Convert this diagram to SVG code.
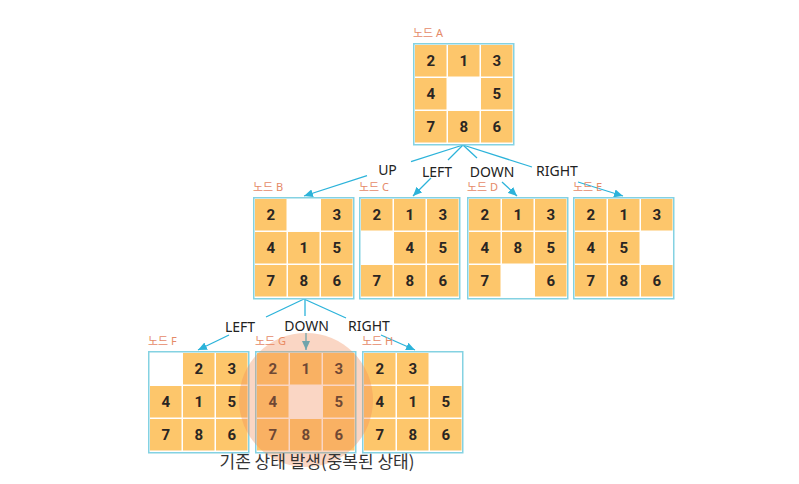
<svg xmlns="http://www.w3.org/2000/svg" width="799" height="484" viewBox="0 0 799 484">
<style>
.box{fill:#fff;stroke:#84d2e2;stroke-width:1.5}
.c{fill:#fdc66b}
.n{font-family:Roboto,"DejaVu Sans",sans-serif;font-weight:700;font-size:15px;fill:#2a2522;text-anchor:middle}
.lbl{font-family:"Noto Sans","Noto Sans CJK KR",sans-serif;font-size:11px;fill:#e58a68}
.edge{stroke:#2cb3da;stroke-width:1.3;fill:none;marker-end:url(#ah)}
.ed{stroke:#2cb3da;stroke-width:1.3;fill:none}
.el{font-family:"Noto Sans",sans-serif;font-size:14px;fill:#222;text-anchor:middle}
.cap{font-family:"Noto Sans CJK KR","Noto Sans",sans-serif;font-size:17px;fill:#333;text-anchor:middle}
</style>
<defs>
<marker id="ah" markerUnits="userSpaceOnUse" markerWidth="10" markerHeight="8" refX="9" refY="4" orient="auto">
<path d="M0,0 L9,4 L0,8 Z" fill="#2cb3da"/>
</marker>
</defs>
<rect width="799" height="484" fill="#fff"/>

<g id="connectors">
<line class="ed" x1="463" y1="145" x2="411" y2="161.6"/>
<line class="edge" x1="367" y1="175.6" x2="304" y2="196"/>
<line class="ed" x1="463" y1="145" x2="448" y2="160"/>
<line class="edge" x1="431" y1="178" x2="413" y2="196"/>
<line class="ed" x1="463" y1="145" x2="477" y2="158"/>
<line class="edge" x1="502" y1="182" x2="517" y2="196"/>
<line class="ed" x1="463" y1="145" x2="532" y2="167"/>
<line class="edge" x1="578" y1="182" x2="623" y2="196"/>
<text class="el" x="387.5" y="175">UP</text>
<text class="el" x="437" y="177">LEFT</text>
<text class="el" x="492" y="177">DOWN</text>
<text class="el" x="557" y="176">RIGHT</text>
<line class="ed" x1="304" y1="299" x2="266" y2="317"/>
<line class="edge" x1="229" y1="335" x2="198" y2="350"/>
<line class="ed" x1="305" y1="299" x2="305" y2="316"/>
<line class="edge" x1="306" y1="333" x2="306" y2="350"/>
<line class="ed" x1="304" y1="299" x2="346" y2="318"/>
<line class="edge" x1="381" y1="335" x2="415" y2="350"/>
<text class="el" x="240" y="332">LEFT</text>
<text class="el" x="306.5" y="331">DOWN</text>
<text class="el" x="369" y="331">RIGHT</text>
</g>

<g id="nodeA" transform="translate(413,43)">
<text class="lbl" x="0" y="-6">노드 A</text>
<rect class="box" x="0.75" y="0.75" width="100" height="101"/>
<rect class="c" x="2" y="2" width="31.5" height="31.5"/><rect class="c" x="35" y="2" width="31.5" height="31.5"/><rect class="c" x="68" y="2" width="31.5" height="31.5"/>
<rect class="c" x="2" y="35" width="31.5" height="31.5"/><rect class="c" x="68" y="35" width="31.5" height="31.5"/>
<rect class="c" x="2" y="68" width="31.5" height="31.5"/><rect class="c" x="35" y="68" width="31.5" height="31.5"/><rect class="c" x="68" y="68" width="31.5" height="31.5"/>
<text class="n" x="17.75" y="23">2</text><text class="n" x="50.75" y="23">1</text><text class="n" x="83.75" y="23">3</text>
<text class="n" x="17.75" y="56">4</text><text class="n" x="83.75" y="56">5</text>
<text class="n" x="17.75" y="89">7</text><text class="n" x="50.75" y="89">8</text><text class="n" x="83.75" y="89">6</text>
</g>

<g id="nodeB" transform="translate(253,197)">
<text class="lbl" x="0" y="-6">노드 B</text>
<rect class="box" x="0.75" y="0.75" width="100" height="101"/>
<rect class="c" x="2" y="2" width="31.5" height="31.5"/><rect class="c" x="68" y="2" width="31.5" height="31.5"/>
<rect class="c" x="2" y="35" width="31.5" height="31.5"/><rect class="c" x="35" y="35" width="31.5" height="31.5"/><rect class="c" x="68" y="35" width="31.5" height="31.5"/>
<rect class="c" x="2" y="68" width="31.5" height="31.5"/><rect class="c" x="35" y="68" width="31.5" height="31.5"/><rect class="c" x="68" y="68" width="31.5" height="31.5"/>
<text class="n" x="17.75" y="23">2</text><text class="n" x="83.75" y="23">3</text>
<text class="n" x="17.75" y="56">4</text><text class="n" x="50.75" y="56">1</text><text class="n" x="83.75" y="56">5</text>
<text class="n" x="17.75" y="89">7</text><text class="n" x="50.75" y="89">8</text><text class="n" x="83.75" y="89">6</text>
</g>

<g id="nodeC" transform="translate(359,197)">
<text class="lbl" x="0" y="-6">노드 C</text>
<rect class="box" x="0.75" y="0.75" width="100" height="101"/>
<rect class="c" x="2" y="2" width="31.5" height="31.5"/><rect class="c" x="35" y="2" width="31.5" height="31.5"/><rect class="c" x="68" y="2" width="31.5" height="31.5"/>
<rect class="c" x="35" y="35" width="31.5" height="31.5"/><rect class="c" x="68" y="35" width="31.5" height="31.5"/>
<rect class="c" x="2" y="68" width="31.5" height="31.5"/><rect class="c" x="35" y="68" width="31.5" height="31.5"/><rect class="c" x="68" y="68" width="31.5" height="31.5"/>
<text class="n" x="17.75" y="23">2</text><text class="n" x="50.75" y="23">1</text><text class="n" x="83.75" y="23">3</text>
<text class="n" x="50.75" y="56">4</text><text class="n" x="83.75" y="56">5</text>
<text class="n" x="17.75" y="89">7</text><text class="n" x="50.75" y="89">8</text><text class="n" x="83.75" y="89">6</text>
</g>

<g id="nodeD" transform="translate(467,197)">
<text class="lbl" x="0" y="-6">노드 D</text>
<rect class="box" x="0.75" y="0.75" width="100" height="101"/>
<rect class="c" x="2" y="2" width="31.5" height="31.5"/><rect class="c" x="35" y="2" width="31.5" height="31.5"/><rect class="c" x="68" y="2" width="31.5" height="31.5"/>
<rect class="c" x="2" y="35" width="31.5" height="31.5"/><rect class="c" x="35" y="35" width="31.5" height="31.5"/><rect class="c" x="68" y="35" width="31.5" height="31.5"/>
<rect class="c" x="2" y="68" width="31.5" height="31.5"/><rect class="c" x="68" y="68" width="31.5" height="31.5"/>
<text class="n" x="17.75" y="23">2</text><text class="n" x="50.75" y="23">1</text><text class="n" x="83.75" y="23">3</text>
<text class="n" x="17.75" y="56">4</text><text class="n" x="50.75" y="56">8</text><text class="n" x="83.75" y="56">5</text>
<text class="n" x="17.75" y="89">7</text><text class="n" x="83.75" y="89">6</text>
</g>

<g id="nodeE" transform="translate(573,197)">
<text class="lbl" x="0" y="-6">노드 E</text>
<rect class="box" x="0.75" y="0.75" width="100" height="101"/>
<rect class="c" x="2" y="2" width="31.5" height="31.5"/><rect class="c" x="35" y="2" width="31.5" height="31.5"/><rect class="c" x="68" y="2" width="31.5" height="31.5"/>
<rect class="c" x="2" y="35" width="31.5" height="31.5"/><rect class="c" x="35" y="35" width="31.5" height="31.5"/>
<rect class="c" x="2" y="68" width="31.5" height="31.5"/><rect class="c" x="35" y="68" width="31.5" height="31.5"/><rect class="c" x="68" y="68" width="31.5" height="31.5"/>
<text class="n" x="17.75" y="23">2</text><text class="n" x="50.75" y="23">1</text><text class="n" x="83.75" y="23">3</text>
<text class="n" x="17.75" y="56">4</text><text class="n" x="50.75" y="56">5</text>
<text class="n" x="17.75" y="89">7</text><text class="n" x="50.75" y="89">8</text><text class="n" x="83.75" y="89">6</text>
</g>

<g id="nodeF" transform="translate(148,351)">
<text class="lbl" x="0" y="-6">노드 F</text>
<rect class="box" x="0.75" y="0.75" width="100" height="101"/>
<rect class="c" x="35" y="2" width="31.5" height="31.5"/><rect class="c" x="68" y="2" width="31.5" height="31.5"/>
<rect class="c" x="2" y="35" width="31.5" height="31.5"/><rect class="c" x="35" y="35" width="31.5" height="31.5"/><rect class="c" x="68" y="35" width="31.5" height="31.5"/>
<rect class="c" x="2" y="68" width="31.5" height="31.5"/><rect class="c" x="35" y="68" width="31.5" height="31.5"/><rect class="c" x="68" y="68" width="31.5" height="31.5"/>
<text class="n" x="50.75" y="23">2</text><text class="n" x="83.75" y="23">3</text>
<text class="n" x="17.75" y="56">4</text><text class="n" x="50.75" y="56">1</text><text class="n" x="83.75" y="56">5</text>
<text class="n" x="17.75" y="89">7</text><text class="n" x="50.75" y="89">8</text><text class="n" x="83.75" y="89">6</text>
</g>

<g id="nodeG" transform="translate(255,351)">
<text class="lbl" x="0" y="-6">노드 G</text>
<rect class="box" x="0.75" y="0.75" width="100" height="101"/>
<rect class="c" x="2" y="2" width="31.5" height="31.5"/><rect class="c" x="35" y="2" width="31.5" height="31.5"/><rect class="c" x="68" y="2" width="31.5" height="31.5"/>
<rect class="c" x="2" y="35" width="31.5" height="31.5"/><rect class="c" x="68" y="35" width="31.5" height="31.5"/>
<rect class="c" x="2" y="68" width="31.5" height="31.5"/><rect class="c" x="35" y="68" width="31.5" height="31.5"/><rect class="c" x="68" y="68" width="31.5" height="31.5"/>
<text class="n" x="17.75" y="23">2</text><text class="n" x="50.75" y="23">1</text><text class="n" x="83.75" y="23">3</text>
<text class="n" x="17.75" y="56">4</text><text class="n" x="83.75" y="56">5</text>
<text class="n" x="17.75" y="89">7</text><text class="n" x="50.75" y="89">8</text><text class="n" x="83.75" y="89">6</text>
</g>

<g id="nodeH" transform="translate(362,351)">
<text class="lbl" x="0" y="-6">노드 H</text>
<rect class="box" x="0.75" y="0.75" width="100" height="101"/>
<rect class="c" x="2" y="2" width="31.5" height="31.5"/><rect class="c" x="35" y="2" width="31.5" height="31.5"/>
<rect class="c" x="2" y="35" width="31.5" height="31.5"/><rect class="c" x="35" y="35" width="31.5" height="31.5"/><rect class="c" x="68" y="35" width="31.5" height="31.5"/>
<rect class="c" x="2" y="68" width="31.5" height="31.5"/><rect class="c" x="35" y="68" width="31.5" height="31.5"/><rect class="c" x="68" y="68" width="31.5" height="31.5"/>
<text class="n" x="17.75" y="23">2</text><text class="n" x="50.75" y="23">3</text>
<text class="n" x="17.75" y="56">4</text><text class="n" x="50.75" y="56">1</text><text class="n" x="83.75" y="56">5</text>
<text class="n" x="17.75" y="89">7</text><text class="n" x="50.75" y="89">8</text><text class="n" x="83.75" y="89">6</text>
</g>

<g id="highlight">
<circle cx="306" cy="400" r="67" fill="#f08a55" fill-opacity="0.35"/>
<text class="cap" x="317" y="468">기존 상태 발생(중복된 상태)</text>
</g>
</svg>
